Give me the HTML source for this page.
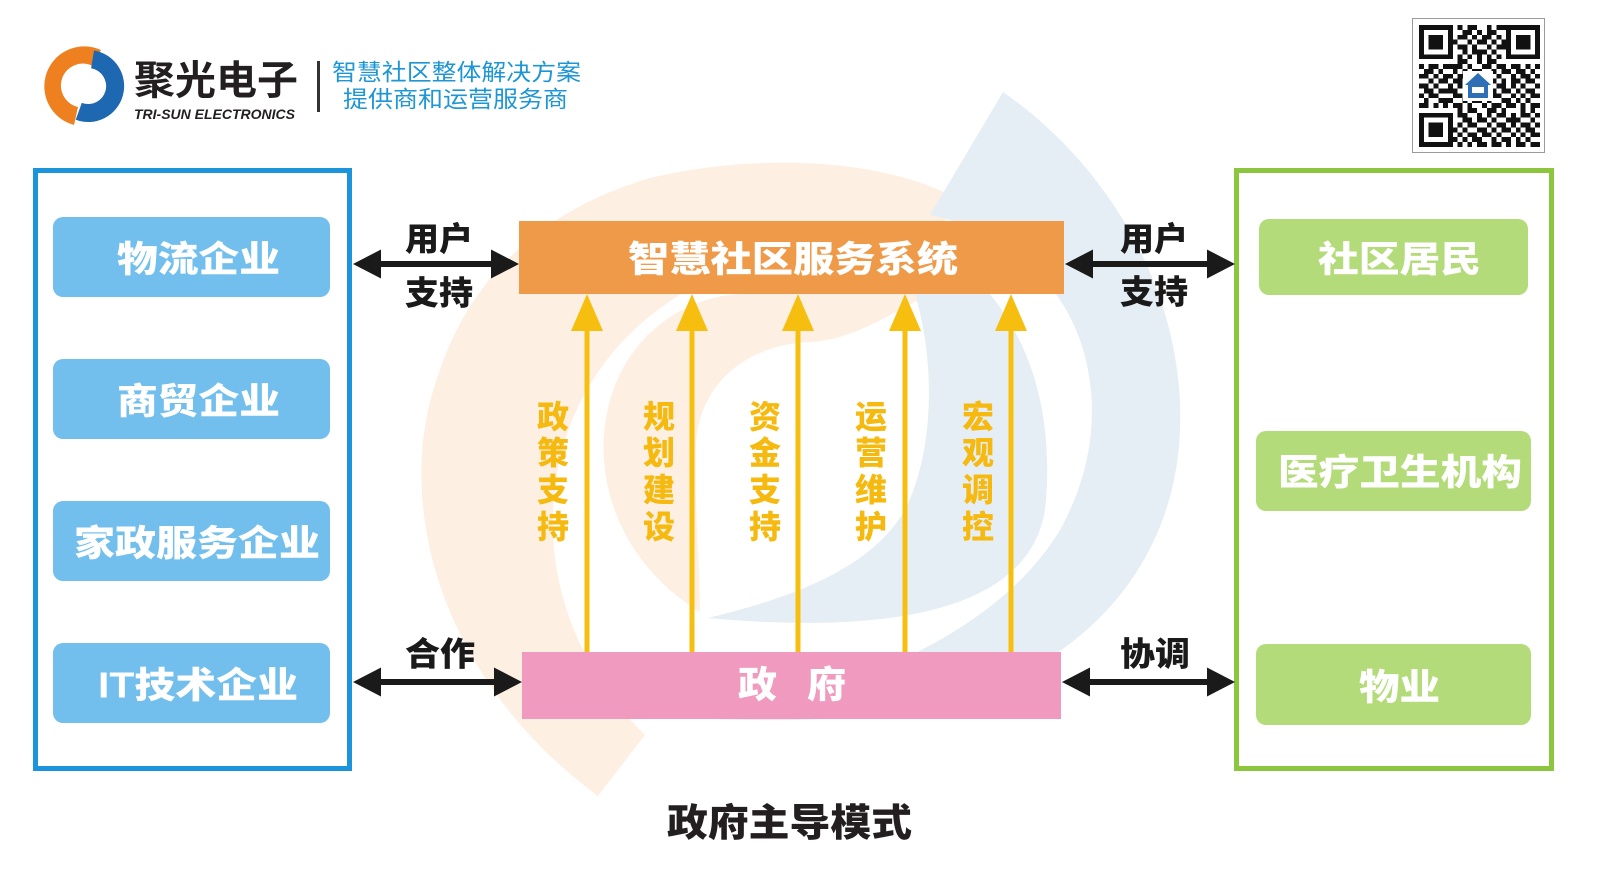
<!DOCTYPE html>
<html><head><meta charset="utf-8"><style>
html,body{margin:0;padding:0;background:#fff;}
body{width:1600px;height:889px;overflow:hidden;}
svg{display:block;}
text{font-family:"Liberation Sans","Noto Sans CJK SC","WenQuanYi Zen Hei",sans-serif;}
</style></head><body>
<svg width="1600" height="889" viewBox="0 0 1600 889" xmlns="http://www.w3.org/2000/svg">
<rect width="1600" height="889" fill="#fff"/>
<!-- watermark -->
<path d="M950,195 C880,160 760,152 650,178 C540,210 470,280 440,370 C390,500 440,680 598,796 L645,735 C560,650 535,540 565,440 C600,330 700,260 830,245 C880,240 920,245 940,250 Z" fill="#fdf0e3"/>
<path d="M700,612 C615,560 590,470 610,400 C630,330 690,296 740,294 L930,294 C880,320 850,340 810,342 C740,345 698,390 696,445 C694,510 700,560 700,612 Z" fill="#fdf0e3"/>
<path d="M1003,92 C1115,170 1185,300 1180,430 C1175,570 1075,690 885,714 C825,721 765,721 712,719 C860,690 1000,630 1060,530 C1105,450 1100,360 1060,300 C1030,255 980,225 930,215 Z" fill="#e5edf5"/>
<path d="M915,294 L990,294 C1035,350 1052,420 1046,500 C1040,585 950,640 708,618 C790,598 870,570 905,510 C935,450 935,360 915,294 Z" fill="#e5edf5"/>

<!-- logo -->
<path d="M101,50 A40 40 0 1 0 74,125 L78,107 A22 22 0 1 1 93,66 Z" fill="#ee8020"/>
<path d="M94,50.5 A36 36 0 1 1 75.7,119.8 L81.8,102.9 A18 18 0 1 0 91.1,68.3 Z" fill="#1d68b1"/>
<text x="134" y="81" font-size="40" font-weight="700" fill="#231f20" dominant-baseline="central" textLength="164" lengthAdjust="spacingAndGlyphs">聚光电子</text>
<text x="134" y="119" font-size="14" font-weight="700" font-style="italic" fill="#231f20" textLength="161" lengthAdjust="spacingAndGlyphs">TRI-SUN ELECTRONICS</text>
<rect x="317" y="61" width="3" height="51" fill="#333"/>
<text x="332" y="72" font-size="23" fill="#1e96d4" dominant-baseline="central" textLength="249" lengthAdjust="spacingAndGlyphs">智慧社区整体解决方案</text>
<text x="343" y="99" font-size="23" fill="#1e96d4" dominant-baseline="central" textLength="225" lengthAdjust="spacingAndGlyphs">提供商和运营服务商</text>

<!-- QR -->
<rect x="1412.5" y="18.5" width="132" height="134" fill="#fff" stroke="#9a9a9a" stroke-width="1"/>
<g transform="translate(1419,25) scale(4.84,4.88)" fill="#111" shape-rendering="crispEdges">
<path d="M0 0h7v1h-7zM8 0h1v1h-1zM10 0h2v1h-2zM14 0h1v1h-1zM16 0h9v1h-9z
M0 1h1v1h-1zM6 1h1v1h-1zM9 1h2v1h-2zM12 1h1v1h-1zM14 1h2v1h-2zM18 1h1v1h-1zM24 1h1v1h-1z
M0 2h1v1h-1zM2 2h3v1h-3zM6 2h1v1h-1zM8 2h2v1h-2zM11 2h1v1h-1zM13 2h2v1h-2zM16 2h1v1h-1zM18 2h1v1h-1zM20 2h3v1h-3zM24 2h1v1h-1z
M0 3h1v1h-1zM2 3h3v1h-3zM6 3h2v1h-2zM10 3h1v1h-1zM12 3h2v1h-2zM15 3h1v1h-1zM17 3h2v1h-2zM20 3h3v1h-3zM24 3h1v1h-1z
M0 4h1v1h-1zM2 4h3v1h-3zM6 4h1v1h-1zM8 4h2v1h-2zM11 4h1v1h-1zM14 4h1v1h-1zM16 4h3v1h-3zM20 4h3v1h-3zM24 4h1v1h-1z
M0 5h1v1h-1zM6 5h1v1h-1zM9 5h1v1h-1zM11 5h3v1h-3zM15 5h1v1h-1zM18 5h1v1h-1zM24 5h1v1h-1z
M0 6h7v1h-7zM8 6h1v1h-1zM10 6h1v1h-1zM12 6h1v1h-1zM14 6h1v1h-1zM16 6h1v1h-1zM18 6h7v1h-7z
M8 7h2v1h-2zM12 7h1v1h-1zM14 7h2v1h-2z
M0 8h1v1h-1zM2 8h2v1h-2zM5 8h4v1h-4zM10 8h1v1h-1zM13 8h2v1h-2zM16 8h2v1h-2zM19 8h2v1h-2zM22 8h1v1h-1zM24 8h1v1h-1z
M1 9h2v1h-2zM4 9h1v1h-1zM7 9h1v1h-1zM9 9h1v1h-1zM11 9h2v1h-2zM15 9h1v1h-1zM17 9h2v1h-2zM20 9h2v1h-2zM23 9h1v1h-1z
M0 10h2v1h-2zM3 10h1v1h-1zM5 10h2v1h-2zM8 10h2v1h-2zM13 10h2v1h-2zM16 10h1v1h-1zM19 10h1v1h-1zM21 10h2v1h-2zM24 10h1v1h-1z
M2 11h1v1h-1zM4 11h2v1h-2zM7 11h2v1h-2zM14 11h2v1h-2zM17 11h1v1h-1zM19 11h2v1h-2zM22 11h2v1h-2z
M0 12h2v1h-2zM3 12h1v1h-1zM6 12h1v1h-1zM8 12h1v1h-1zM14 12h1v1h-1zM16 12h2v1h-2zM19 12h1v1h-1zM21 12h1v1h-1zM24 12h1v1h-1z
M1 13h2v1h-2zM4 13h4v1h-4zM14 13h2v1h-2zM17 13h2v1h-2zM20 13h1v1h-1zM22 13h2v1h-2z
M0 14h1v1h-1zM2 14h2v1h-2zM7 14h2v1h-2zM10 14h2v1h-2zM13 14h1v1h-1zM15 14h2v1h-2zM19 14h1v1h-1zM21 14h1v1h-1zM23 14h2v1h-2z
M1 15h1v1h-1zM4 15h3v1h-3zM9 15h1v1h-1zM11 15h2v1h-2zM14 15h1v1h-1zM17 15h2v1h-2zM20 15h1v1h-1zM22 15h1v1h-1z
M0 16h2v1h-2zM3 16h1v1h-1zM5 16h1v1h-1zM7 16h2v1h-2zM10 16h1v1h-1zM13 16h1v1h-1zM15 16h2v1h-2zM18 16h2v1h-2zM21 16h1v1h-1zM23 16h2v1h-2z
M8 17h1v1h-1zM10 17h2v1h-2zM14 17h2v1h-2zM17 17h1v1h-1zM21 17h1v1h-1zM23 17h1v1h-1z
M0 18h7v1h-7zM8 18h2v1h-2zM12 18h1v1h-1zM14 18h1v1h-1zM16 18h2v1h-2zM19 18h1v1h-1zM21 18h2v1h-2zM24 18h1v1h-1z
M0 19h1v1h-1zM6 19h1v1h-1zM9 19h2v1h-2zM12 19h2v1h-2zM15 19h1v1h-1zM18 19h3v1h-3zM23 19h1v1h-1z
M0 20h1v1h-1zM2 20h3v1h-3zM6 20h1v1h-1zM8 20h1v1h-1zM10 20h2v1h-2zM14 20h1v1h-1zM16 20h2v1h-2zM19 20h1v1h-1zM21 20h2v1h-2zM24 20h1v1h-1z
M0 21h1v1h-1zM2 21h3v1h-3zM6 21h2v1h-2zM9 21h1v1h-1zM12 21h2v1h-2zM15 21h1v1h-1zM17 21h2v1h-2zM20 21h1v1h-1zM22 21h2v1h-2z
M0 22h1v1h-1zM2 22h3v1h-3zM6 22h1v1h-1zM8 22h1v1h-1zM10 22h2v1h-2zM13 22h2v1h-2zM16 22h1v1h-1zM19 22h1v1h-1zM21 22h1v1h-1zM23 22h2v1h-2z
M0 23h1v1h-1zM6 23h2v1h-2zM9 23h1v1h-1zM11 23h2v1h-2zM15 23h1v1h-1zM17 23h2v1h-2zM20 23h1v1h-1zM22 23h1v1h-1z
M0 24h7v1h-7zM8 24h1v1h-1zM10 24h1v1h-1zM12 24h2v1h-2zM15 24h2v1h-2zM18 24h1v1h-1zM20 24h2v1h-2zM23 24h2v1h-2z"/>
</g>
<rect x="1463" y="71" width="30" height="30" fill="#fff"/>
<polygon points="1478,73 1491,85 1465,85" fill="#2e6fb6"/>
<rect x="1468" y="84" width="20" height="14" fill="#2e6fb6"/>
<rect x="1472" y="87" width="12" height="6" fill="#fff"/>

<!-- left group -->
<rect x="35.5" y="170.5" width="314" height="598" fill="none" stroke="#1b94dc" stroke-width="5"/>
<rect x="53" y="217" width="277" height="80" rx="10" fill="#72bfed"/>
<rect x="53" y="359" width="277" height="80" rx="10" fill="#72bfed"/>
<rect x="53" y="501" width="277" height="80" rx="10" fill="#72bfed"/>
<rect x="53" y="643" width="277" height="80" rx="10" fill="#72bfed"/>
<g font-size="36" font-weight="900" fill="#fff" dominant-baseline="central">
<text x="117" y="259" textLength="163" lengthAdjust="spacingAndGlyphs">物流企业</text>
<text x="117" y="401" textLength="163" lengthAdjust="spacingAndGlyphs">商贸企业</text>
<text x="74" y="543" textLength="246" lengthAdjust="spacingAndGlyphs">家政服务企业</text>
<text x="98" y="685" textLength="200" lengthAdjust="spacingAndGlyphs">IT技术企业</text>
</g>

<!-- right group -->
<rect x="1236.5" y="170.5" width="315" height="598" fill="none" stroke="#8cc63f" stroke-width="5"/>
<rect x="1259" y="219" width="269" height="76" rx="10" fill="#b4db79"/>
<rect x="1256" y="431" width="275" height="80" rx="10" fill="#b4db79"/>
<rect x="1256" y="644" width="275" height="81" rx="10" fill="#b4db79"/>
<g font-size="36" font-weight="900" fill="#fff" dominant-baseline="central">
<text x="1318" y="259" textLength="163" lengthAdjust="spacingAndGlyphs">社区居民</text>
<text x="1278" y="472" textLength="244" lengthAdjust="spacingAndGlyphs">医疗卫生机构</text>
<text x="1359" y="687" textLength="81" lengthAdjust="spacingAndGlyphs">物业</text>
</g>

<!-- center boxes -->
<rect x="519" y="221" width="545" height="73" fill="#ef9a48"/>
<text x="628" y="259" font-size="36" font-weight="900" fill="#fff" dominant-baseline="central" textLength="330" lengthAdjust="spacingAndGlyphs">智慧社区服务系统</text>
<rect x="522" y="652" width="539" height="67" fill="#f09abf"/>
<g font-size="37" font-weight="900" fill="#fff" dominant-baseline="central">
<text x="738" y="685" textLength="39" lengthAdjust="spacingAndGlyphs">政</text>
<text x="807" y="685" textLength="39" lengthAdjust="spacingAndGlyphs">府</text>
</g>

<!-- yellow arrows -->
<g fill="#f6bf10" stroke="none">
<rect x="584.5" y="326" width="5" height="326"/>
<polygon points="587,294 603,331 571,331"/>
<rect x="689.5" y="326" width="5" height="326"/>
<polygon points="692,294 708,331 676,331"/>
<rect x="795.5" y="326" width="5" height="326"/>
<polygon points="798,294 814,331 782,331"/>
<rect x="902.5" y="326" width="5" height="326"/>
<polygon points="905,294 921,331 889,331"/>
<rect x="1008.5" y="326" width="5" height="326"/>
<polygon points="1011,294 1027,331 995,331"/>
</g>
<g font-size="32" font-weight="900" fill="#f5b90f" text-anchor="middle" dominant-baseline="central">
<text x="553" y="417">政</text><text x="553" y="453">策</text><text x="553" y="490">支</text><text x="553" y="527">持</text>
<text x="659" y="417">规</text><text x="659" y="453">划</text><text x="659" y="490">建</text><text x="659" y="527">设</text>
<text x="765" y="417">资</text><text x="765" y="453">金</text><text x="765" y="490">支</text><text x="765" y="527">持</text>
<text x="871" y="417">运</text><text x="871" y="453">营</text><text x="871" y="490">维</text><text x="871" y="527">护</text>
<text x="978" y="417">宏</text><text x="978" y="453">观</text><text x="978" y="490">调</text><text x="978" y="527">控</text>
</g>

<!-- black arrows -->
<g fill="#1a1a1a">
<rect x="378" y="261" width="116" height="6"/>
<polygon points="353,264 381,249.5 381,278.5"/>
<polygon points="519,264 491,249.5 491,278.5"/>
<rect x="1090" y="261" width="118" height="6"/>
<polygon points="1065,264 1093,249.5 1093,278.5"/>
<polygon points="1235,264 1207,249.5 1207,278.5"/>
<rect x="378" y="679" width="119" height="6"/>
<polygon points="353,682 381,667.5 381,696.5"/>
<polygon points="522,682 494,667.5 494,696.5"/>
<rect x="1087" y="679" width="121" height="6"/>
<polygon points="1062,682 1090,667.5 1090,696.5"/>
<polygon points="1235,682 1207,667.5 1207,696.5"/>
</g>
<g font-size="33" font-weight="900" fill="#1a1a1a" dominant-baseline="central">
<text x="405" y="239" textLength="68" lengthAdjust="spacingAndGlyphs">用户</text>
<text x="405" y="293" textLength="68" lengthAdjust="spacingAndGlyphs">支持</text>
<text x="1120" y="239" textLength="68" lengthAdjust="spacingAndGlyphs">用户</text>
<text x="1120" y="292" textLength="68" lengthAdjust="spacingAndGlyphs">支持</text>
<text x="405" y="654" textLength="70" lengthAdjust="spacingAndGlyphs">合作</text>
<text x="1120" y="654" textLength="70" lengthAdjust="spacingAndGlyphs">协调</text>
</g>

<!-- title -->
<text x="667" y="824" font-size="38" font-weight="900" fill="#231f20" dominant-baseline="central" textLength="245" lengthAdjust="spacingAndGlyphs">政府主导模式</text>
</svg>
</body></html>
